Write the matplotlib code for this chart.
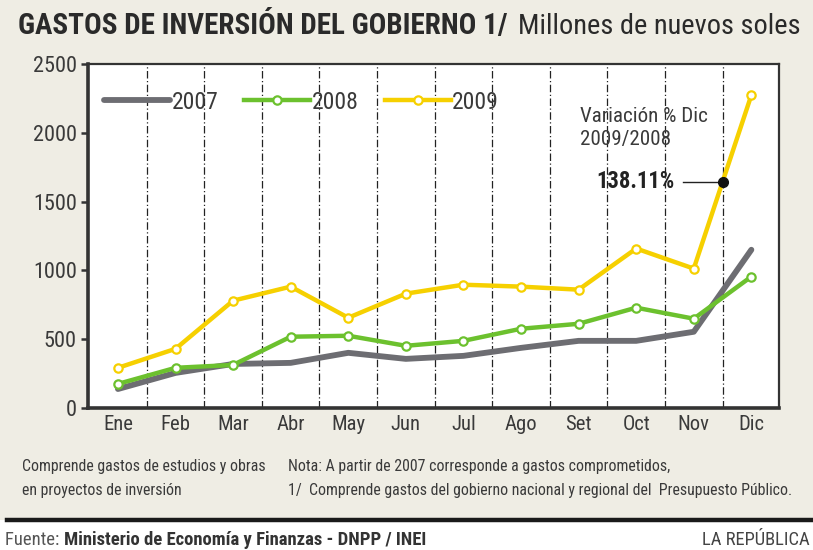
import numpy as np
import matplotlib
matplotlib.use("Agg")
import matplotlib.pyplot as plt
from matplotlib.lines import Line2D
from matplotlib.patches import Rectangle
from matplotlib import font_manager

meses = ["Ene", "Feb", "Mar", "Abr", "May", "Jun", "Jul", "Ago", "Set", "Oct", "Nov", "Dic"]
gasto_2007 = [138, 255, 320, 328, 401, 357, 379, 437, 488, 488, 554, 1150]
gasto_2008 = [175, 292, 313, 518, 525, 452, 488, 576, 612, 729, 649, 955]
gasto_2009 = [292, 430, 780, 882, 656, 831, 896, 882, 860, 1159, 1013, 2274]
variacion_dic = "138.11%"
yticks = [0, 500, 1000, 1500, 2000, 2500]

# pick a narrow face if one is around
fonts = font_manager.fontManager.ttflist
names = {f.name for f in fonts}
stretch = "normal"
family = None
for cand in ["Liberation Sans Narrow", "Roboto Condensed", "Open Sans Condensed", "Noto Sans Condensed"]:
    if cand in names:
        family = cand
        break
if family is None:
    if any(f.name == "DejaVu Sans" and str(f.stretch) in ("condensed", "semi-condensed", "600", "700") for f in fonts):
        family, stretch = "DejaVu Sans", "condensed"
    else:
        family = "Roboto" if "Roboto" in names else "DejaVu Sans"
plt.rcParams["font.family"] = [family, "DejaVu Sans"]
plt.rcParams["font.stretch"] = stretch

beige = "#efede4"
gris = "#6d6d72"
verde = "#6cc12e"
amarillo = "#f6d000"
texto = "#3a3a3a"

W, H = 813, 550
fig = plt.figure(figsize=(W / 100, H / 100), dpi=100, facecolor=beige)
renderer = fig.canvas.get_renderer()


def size_for(s, px, weight="normal", base=20):
    """font size that makes string s about px pixels wide"""
    t = fig.text(0, 0, s, fontsize=base, fontweight=weight)
    w = t.get_window_extent(renderer).width
    t.remove()
    return base * px / w


# white strip below the footer rule
fig.patches.append(Rectangle((0, 0), 1, 30 / H, transform=fig.transFigure,
                             facecolor="white", edgecolor="none", zorder=0))

ax = fig.add_axes([88 / W, 142 / H, 691 / W, 344 / H])
ax.set_facecolor("white")
x = np.arange(len(meses))

for k in range(len(meses) - 1):
    ax.axvline(k + 0.5, color="#222222", lw=0.9, ls=(0, (6, 2, 1, 2)), zorder=1)

ax.plot(x, gasto_2007, color=gris, lw=4.2, solid_capstyle="round", label="2007", zorder=3)
ax.plot(x, gasto_2008, color=verde, lw=3.2, marker="o", ms=6, mfc="white",
        mec=verde, mew=1.6, label="2008", zorder=4)
ax.plot(x, gasto_2009, color=amarillo, lw=3.2, marker="o", ms=6, mfc="white",
        mec=amarillo, mew=1.6, label="2009", zorder=5)

fs_y = min(17, size_for("2500", 44))
fs_x = min(15, size_for("May", 34))
fs_leg = min(17, size_for("2007", 48))

ax.set_xlim(-0.52, 11.48)
ax.set_ylim(0, 2500)
ax.set_xticks(x)
ax.set_xticklabels(meses, fontsize=fs_x, color=texto)
ax.set_yticks(yticks)
ax.set_yticklabels([str(v) for v in yticks], fontsize=fs_y, color=texto)
ax.tick_params(axis="x", length=0, pad=5)
ax.tick_params(axis="y", length=5, width=1.8, color="#333333", pad=3)
for side in ["left", "bottom"]:
    ax.spines[side].set_linewidth(2.6)
    ax.spines[side].set_color("#333333")
for side in ["top", "right"]:
    ax.spines[side].set_linewidth(1.6)
    ax.spines[side].set_color("#333333")

leg = ax.legend(loc="upper left", ncol=3, frameon=False, fontsize=fs_leg,
                handlelength=2.8, handletextpad=0.05, columnspacing=1.1,
                bbox_to_anchor=(0.01, 0.95), borderaxespad=0)
for t in leg.get_texts():
    t.set_color(texto)

# Dec 2009 vs Dec 2008 callout
fs_ann = size_for("Variación % Dic", 128)
y_dot = (gasto_2009[10] + gasto_2009[11]) / 2
ax.plot([9.82, 10.5], [y_dot, y_dot], color="#222222", lw=1, zorder=6)
ax.plot(10.5, y_dot, "o", color="#111111", ms=7, zorder=7)
ax.text(9.66, y_dot, variacion_dic, ha="right", va="center",
        fontsize=size_for(variacion_dic, 78, "bold"),
        fontweight="bold", color="#222222", zorder=7)
ax.text(8.03, 2115, "Variación % Dic", ha="left", va="center", fontsize=fs_ann, color=texto)
ax.text(8.03, 1950, "2009/2008", ha="left", va="center", fontsize=fs_ann, color=texto)

# title
titulo = "GASTOS DE INVERSIÓN DEL GOBIERNO 1/"
unidad = "Millones de nuevos soles"
fig.text(18 / W, 1 - 26 / H, titulo, fontsize=size_for(titulo, 490, "bold"),
         fontweight="bold", color="#2a2a2a", va="center", ha="left")
fig.text(518 / W, 1 - 26 / H, unidad, fontsize=size_for(unidad, 282),
         color="#2a2a2a", va="center", ha="left")

# notes
nota_izq = ["Comprende gastos de estudios y obras", "en proyectos de inversión"]
nota_der = ["Nota: A partir de 2007 corresponde a gastos comprometidos,",
            "1/  Comprende gastos del gobierno nacional y regional del  Presupuesto Público."]
fs_n = min(size_for(nota_izq[0], 250), size_for(nota_der[1], 505))
for i, (a, b) in enumerate(zip(nota_izq, nota_der)):
    yy = 1 - (466 + 25 * i) / H
    fig.text(22 / W, yy, a, fontsize=fs_n, color=texto, va="center")
    fig.text(288 / W, yy, b, fontsize=fs_n, color=texto, va="center")

fig.add_artist(Line2D([7 / W, 1], [1 - 520 / H] * 2, transform=fig.transFigure,
                      color="#1a1a1a", lw=3.2))

fuente = "Ministerio de Economía y Finanzas - DNPP / INEI"
fs_f = size_for("Fuente: " + fuente, 422, "bold")
f1 = fig.text(5 / W, 1 - 540 / H, "Fuente: ", fontsize=fs_f, color="#555555", va="center")
bb = f1.get_window_extent(renderer)
fig.text(bb.x1 / W, 1 - 540 / H, fuente, fontsize=fs_f, fontweight="bold",
         color="#333333", va="center")
fig.text(810 / W, 1 - 540 / H, "LA REPÚBLICA", fontsize=size_for("LA REPÚBLICA", 108),
         color="#444444", va="center", ha="right")

fig.savefig("out.png", dpi=100, facecolor=beige)
